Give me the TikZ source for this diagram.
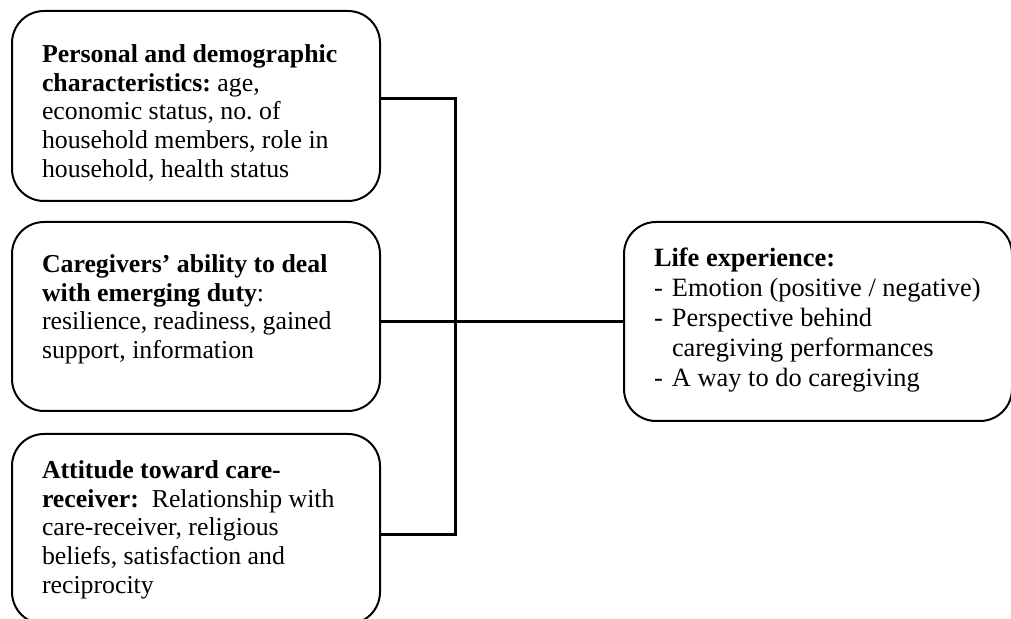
\documentclass[tikz,border=0pt]{standalone}
\usepackage{fontspec}
\setmainfont{Liberation Serif}
\frenchspacing
\newcommand{\boxtext}[4]{\hspace*{15pt}\parbox[c][#1][t]{#2}{\raggedright\vspace*{#3}\strut#4}}

\begin{document}
\begin{tikzpicture}[x=0.5pt, y=-0.5pt, factor/.style={draw, line width=1pt,
      rounded corners=16pt, inner sep=0pt, font=\fontsize{12.9}{14.3}\selectfont},
    link/.style={line width=1.5pt}]
    \clip (0,0) rectangle (1011,619);
    \begin{scope}[every node/.style={factor}]
      \node (pers) at (196,106) {\boxtext{95pt}{169pt}{15.85pt}{\textbf{Personal
            and demographic}\\ \textbf{characteristics:} age,\\ economic
          status, no. of\\ household members, role in\\ household, health
          status}};
      \node (able) at (196,316.5) {\boxtext{94.5pt}{169pt}{15.35pt}{\textbf{Caregivers’
            ability to deal}\\ \textbf{with emerging duty}:\\ resilience,
          readiness, gained\\ support, information}};
      \node (att) at (196,529) {\boxtext{95pt}{169pt}{12.35pt}{\textbf{Attitude
            toward care-}\\ \textbf{receiver:}\ \ Relationship with\\
          care-receiver, religious\\ beliefs, satisfaction and\\ reciprocity}};
      \node [font=\fontsize{13.2}{15}\selectfont] (life) at (818,321.5)
      {\boxtext{99.5pt}{179pt}{12pt}{\textbf{Life experience:}\\
          \makebox[9pt][l]{-}Emotion (positive / negative)\\
          \makebox[9pt][l]{-}Perspective behind\\ \hspace*{9pt}caregiving
          performances\\ \makebox[9pt][l]{-}A way to do caregiving}};
    \end{scope}
    \coordinate (j1) at (455,99); \coordinate (j2) at (455,322);
    \coordinate (j3) at (455,534);
    \begin{scope}[link]
      \draw (pers.east |- j1) -- (j1) -- (j3) -- (att.east |- j3); \draw
      (able.east |- j2) -- (life.west |- j2);
    \end{scope}
  \end{tikzpicture}
\end{document}
